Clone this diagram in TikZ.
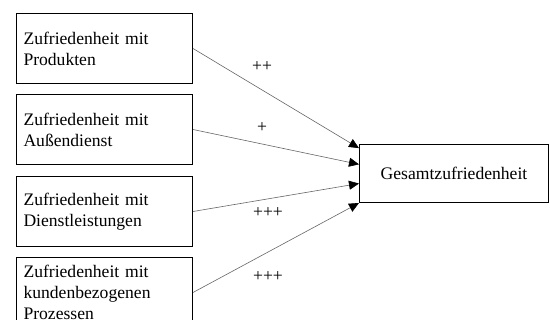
\documentclass[tikz,border=0pt]{standalone}
\usepackage{fontspec}
\setmainfont{Liberation Serif}
\usetikzlibrary{arrows.meta,calc}

\begin{document}
\begin{tikzpicture}[x=1pt, y=-1pt,
    font=\fontsize{17.6}{21}\selectfont,
    >={Triangle[length=10pt,width=9pt,color=black]},
    factor/.style={draw, line width=1pt, anchor=north west, align=left,
        text width=162pt, inner xsep=7pt, minimum height=70pt},
    total/.style={draw, line width=1pt, anchor=north west,
        minimum width=189pt, minimum height=58pt},
    link/.style={->, draw=black!60, line width=0.6pt}]
    \useasboundingbox (0,0) rectangle (550,320);

    \node[factor] (prod) at (16,13)  {Zufriedenheit mit\\Produkten};
    \node[factor] (ad)   at (16,94)  {Zufriedenheit mit\\Außendienst};
    \node[factor] (dl)   at (16,176) {Zufriedenheit mit\\Dienstleistungen};
    \node[factor] (proz) at (16,257) {Zufriedenheit mit\\kundenbezogenen\\Prozessen};

    \node[total] (ges) at (359,144) {Gesamtzufriedenheit};

    % arrow ends along the left side of the total box
    \coordinate (e1) at ($(ges.north west)!0.07!(ges.south west)$);
    \coordinate (e2) at ($(ges.north west)!0.345!(ges.south west)$);
    \coordinate (e3) at ($(ges.north west)!0.67!(ges.south west)$);
    \coordinate (e4) at (ges.south west);

    \draw[link] (prod.east) -- (e1);
    \draw[link] (ad.east) -- (e2);
    \draw[link] (dl.east) -- (e3);
    \draw[link] (proz.east) -- (e4);

    \node (w1) at (262,67)  {++};
    \node (w2) at (262,128) {+};
    \node (w3) at (268,213) {+++};
    \node (w4) at (268,277) {+++};
\end{tikzpicture}
\end{document}
